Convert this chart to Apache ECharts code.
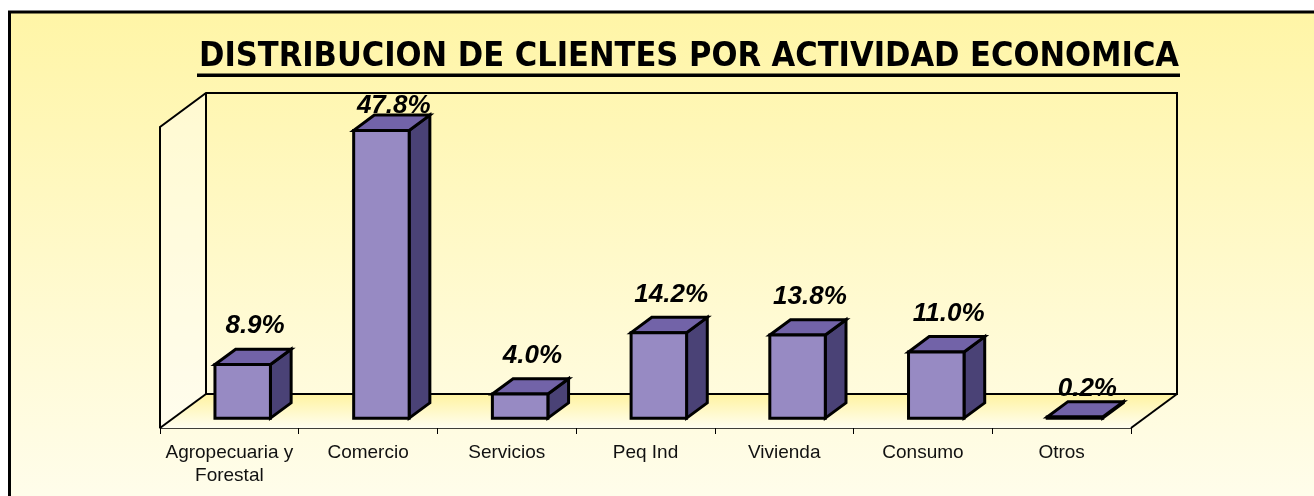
<!DOCTYPE html>
<html>
<head>
<meta charset="utf-8">
<title>Distribucion de clientes</title>
<script src="https://cdn.jsdelivr.net/npm/echarts@6/dist/echarts.min.js"></script>
<style>
html, body { margin: 0; padding: 0; background: #fff; }
#main { width: 1314px; height: 496px; }
</style>
</head>
<body>
<div id="main"></div>
<script>
const categories = ['Agropecuaria y\nForestal', 'Comercio', 'Servicios', 'Peq Ind', 'Vivienda', 'Consumo', 'Otros']
const shares = [8.9, 47.8, 4.0, 14.2, 13.8, 11.0, 0.2]
const valueMax = 50

// profundidad del piso 3D (px)
const DEPTH_X = 46
const DEPTH_Y = -34
// franja de profundidad que ocupa la barra
const BAR_FRONT = 0.29
const BAR_BACK = 0.74
const BAR_RATIO = 0.4

const chart = echarts.init(document.getElementById('main'))

function shift (p, f) {
  return [p[0] + DEPTH_X * f, p[1] + DEPTH_Y * f]
}

function renderWalls (params, api) {
  const cs = params.coordSys
  const x0 = cs.x
  const x1 = cs.x + cs.width
  const yb = cs.y + cs.height
  const yt = cs.y
  const fl = [x0, yb]
  const fr = [x1, yb]
  const tl = [x0, yt]
  const bl = shift(fl, 1)
  const br = shift(fr, 1)
  const btl = shift(tl, 1)
  const btr = shift([x1, yt], 1)
  const line = { stroke: '#000', lineWidth: 2, fill: null }
  return {
    type: 'group',
    children: [
      {
        type: 'polygon',
        shape: { points: [fl, fr, br, bl] },
        style: {
          fill: new echarts.graphic.LinearGradient(0, 0, 0, 1, [
            { offset: 0, color: '#FFF3A0' },
            { offset: 1, color: '#FFFEF0' }
          ])
        }
      },
      { type: 'polygon', shape: { points: [tl, btl, bl, fl] }, style: { fill: 'rgba(255,255,255,0.4)' } },
      { type: 'polyline', shape: { points: [fl, tl, btl, btr, br, bl, btl] }, style: line },
      { type: 'polyline', shape: { points: [fl, bl] }, style: line },
      { type: 'polyline', shape: { points: [fr, br] }, style: line }
    ]
  }
}

function renderBar (params, api) {
  const i = api.value(0)
  const v = api.value(1)
  const cs = params.coordSys
  const base = api.coord([i, 0])
  const top = api.coord([i, v])
  const w = api.size([1, 0])[0] * BAR_RATIO
  const d = BAR_BACK - BAR_FRONT
  const fbl = shift([base[0] - w / 2, base[1]], BAR_FRONT)
  const fbr = shift([base[0] + w / 2, base[1]], BAR_FRONT)
  const ftl = shift([top[0] - w / 2, top[1]], BAR_FRONT)
  const ftr = shift([top[0] + w / 2, top[1]], BAR_FRONT)
  const btl = shift(ftl, d)
  const btr = shift(ftr, d)
  const bbr = shift(fbr, d)
  const edge = { stroke: '#000', lineWidth: 3, lineJoin: 'miter' }
  // etiqueta: arriba de la barra, sin salir del area
  const barH = base[1] - top[1]
  let ly = btr[1] - Math.min(23, 12 + barH)
  ly = Math.max(ly, cs.y - 21)
  const lx = (ftl[0] + btr[0]) / 2 + 2
  return {
    type: 'group',
    children: [
      { type: 'polygon', shape: { points: [ftr, btr, bbr, fbr] }, style: Object.assign({ fill: '#4A4276' }, edge) },
      { type: 'polygon', shape: { points: [ftl, btl, btr, ftr] }, style: Object.assign({ fill: '#7263A8' }, edge) },
      { type: 'polygon', shape: { points: [ftl, ftr, fbr, fbl] }, style: Object.assign({ fill: '#978AC3' }, edge) },
      {
        type: 'text',
        x: lx,
        y: ly,
        style: {
          text: v.toFixed(1) + '%',
          font: 'italic bold 26px "Liberation Sans", Arial, sans-serif',
          fill: '#000',
          align: 'center',
          verticalAlign: 'middle'
        }
      }
    ]
  }
}

const option = {
  animation: false,
  graphic: [
    {
      type: 'rect',
      z: -10,
      shape: { x: 9.5, y: 12, width: 1400, height: 600 },
      style: {
        fill: new echarts.graphic.LinearGradient(0, 0, 0, 1, [
          { offset: 0, color: '#FFF5A6' },
          { offset: 0.5, color: '#FFFAD2' },
          { offset: 1, color: '#FFFFFA' }
        ]),
        stroke: '#000',
        lineWidth: 3
      }
    },
    {
      type: 'text',
      x: 689,
      y: 57,
      style: {
        text: 'DISTRIBUCION DE CLIENTES POR ACTIVIDAD ECONOMICA',
        font: 'bold 34px "DejaVu Sans Condensed", "DejaVu Sans", sans-serif',
        fill: '#000',
        align: 'center',
        verticalAlign: 'middle'
      }
    },
    {
      type: 'rect',
      shape: { x: 197, y: 73.5, width: 983, height: 3.5 },
      style: { fill: '#000' }
    }
  ],
  grid: {
    left: 160,
    right: 183,
    top: 127,
    bottom: 68
  },
  xAxis: {
    type: 'category',
    data: categories,
    axisLine: { show: true, lineStyle: { color: '#000', width: 1.5 } },
    axisTick: { show: true, length: 6, lineStyle: { color: '#000' } },
    axisLabel: {
      interval: 0,
      margin: 13,
      fontSize: 19,
      lineHeight: 23,
      fontFamily: '"Liberation Sans", Arial, sans-serif',
      color: '#111'
    },
    splitLine: { show: false }
  },
  yAxis: {
    type: 'value',
    min: 0,
    max: valueMax,
    show: false
  },
  series: [
    {
      type: 'custom',
      z: 1,
      silent: true,
      renderItem: renderWalls,
      data: [[0, 0]]
    },
    {
      type: 'custom',
      z: 3,
      renderItem: renderBar,
      data: shares.map((v, i) => [i, v])
    }
  ]
}

chart.setOption(option)
</script>
</body>
</html>
